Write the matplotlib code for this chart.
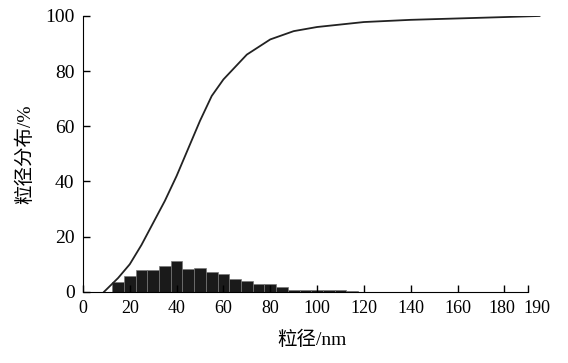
import numpy as np
import matplotlib.pyplot as plt
import matplotlib.transforms as mtransforms

plt.rcParams['font.family'] = ['Liberation Serif', 'Noto Sans CJK SC']

# histogram, 5 nm bins
bin_centers = np.arange(15, 120, 5)
bin_pct = [3.5, 5.7, 8.0, 8.0, 9.3, 11.2, 8.3, 8.7, 7.1, 6.3, 4.5,
           3.9, 3.0, 2.7, 1.7, 0.8, 0.7, 0.6, 0.5, 0.5, 0.4]

# cumulative curve
cum_x = [9, 15, 20, 25, 30, 35, 40, 45, 50, 55, 60, 70, 80, 90, 100, 120, 140, 160, 180, 195]
cum_y = [0, 5, 10, 17, 25, 33, 42, 52, 62, 71, 77, 86, 91.5, 94.5, 96, 97.8, 98.6, 99.1, 99.6, 100]

xticks = [0, 20, 40, 60, 80, 100, 120, 140, 160, 180, 190]
yticks = [0, 20, 40, 60, 80, 100]

fig = plt.figure(figsize=(5.68, 3.63), dpi=100)
ax = fig.add_axes([0.146, 0.196, 0.808, 0.760])

ax.bar(bin_centers, bin_pct, width=5, color='#1a1a1a', edgecolor='#777777', linewidth=0.5)
ax.plot(cum_x, cum_y, color='#222222', lw=1.3)

ax.set_xlim(0, 196)
ax.set_ylim(0, 100)
ax.set_xticks(xticks)
ax.set_yticks(yticks)
ax.spines['top'].set_visible(False)
ax.spines['right'].set_visible(False)
ax.spines['bottom'].set_bounds(0, 190)
ax.tick_params(direction='in', length=5, width=1, labelsize=14, pad=6)
ax.tick_params(axis='x', labelsize=13)

# nudge the crowded end labels apart
labels = ax.get_xticklabels()
labels[-1].set_transform(labels[-1].get_transform() +
                         mtransforms.ScaledTranslation(9 / 100, 0, fig.dpi_scale_trans))
labels[-2].set_transform(labels[-2].get_transform() +
                         mtransforms.ScaledTranslation(-3 / 100, 0, fig.dpi_scale_trans))

ax.set_xlabel('粒径/nm', fontsize=14, labelpad=10)
ax.set_ylabel('粒径分布/%', fontsize=14, labelpad=8)

fig.savefig('out.png', dpi=100)
